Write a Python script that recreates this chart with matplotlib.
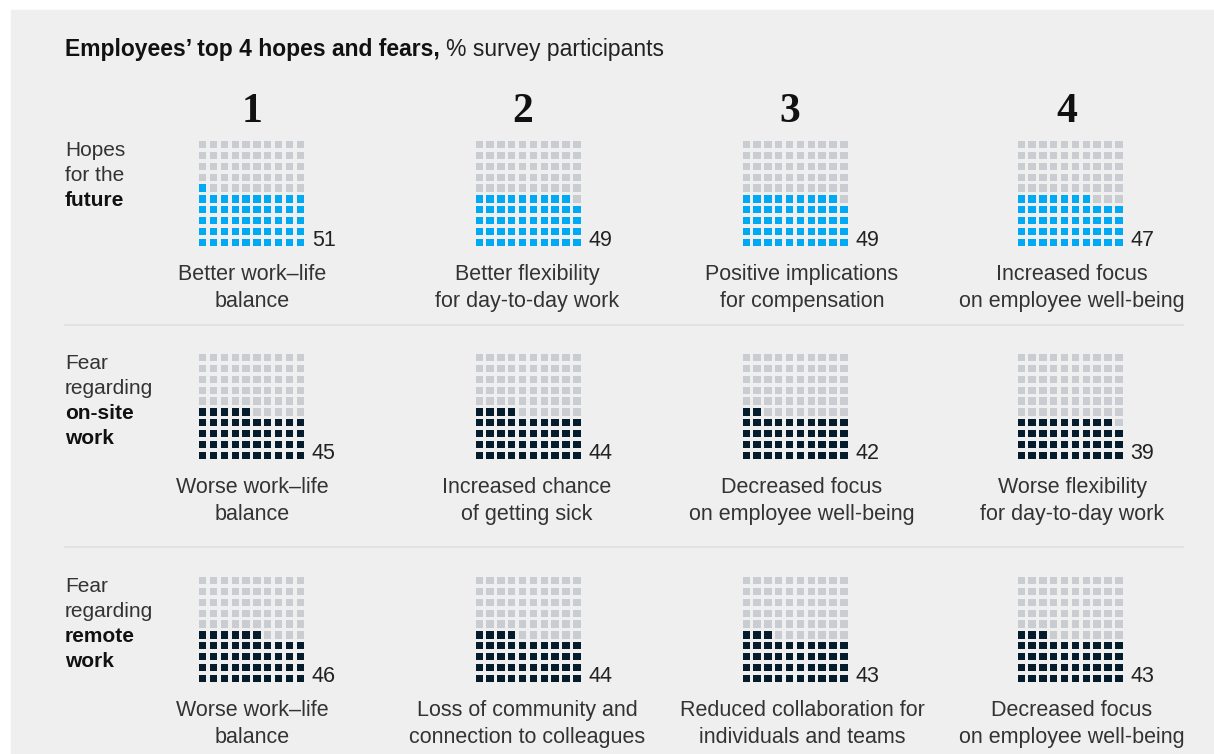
import matplotlib
matplotlib.use("Agg")
import matplotlib.pyplot as plt
from matplotlib.patches import Rectangle

# survey results, % of participants
ranks = ["1", "2", "3", "4"]
hopes = [51, 49, 49, 47]
fears_onsite = [45, 44, 42, 39]
fears_remote = [46, 44, 43, 43]

hopes_labels = ["Better work\u2013life\nbalance",
                "Better flexibility\nfor day-to-day work",
                "Positive implications\nfor compensation",
                "Increased focus\non employee well-being"]
onsite_labels = ["Worse work\u2013life\nbalance",
                 "Increased chance\nof getting sick",
                 "Decreased focus\non employee well-being",
                 "Worse flexibility\nfor day-to-day work"]
remote_labels = ["Worse work\u2013life\nbalance",
                 "Loss of community and\nconnection to colleagues",
                 "Reduced collaboration for\nindividuals and teams",
                 "Decreased focus\non employee well-being"]

row_titles = [("Hopes\nfor the", "future"),
              ("Fear\nregarding", "on-site\nwork"),
              ("Fear\nregarding", "remote\nwork")]

rows = [(hopes, hopes_labels, "#00a9f4"),
        (fears_onsite, onsite_labels, "#051c2c"),
        (fears_remote, remote_labels, "#051c2c")]

EMPTY = "#c9ccd0"
BG = "#efefef"
SANS = "Liberation Sans"

W, H = 1214, 754
fig = plt.figure(figsize=(W / 100, H / 100), dpi=100)
fig.patch.set_facecolor("white")

# pixel-space canvas for the panel and all text
bg = fig.add_axes([0, 0, 1, 1])
bg.set_xlim(0, W)
bg.set_ylim(H, 0)
bg.axis("off")
bg.add_patch(Rectangle((11, 10), W - 11, H - 10, color=BG, zorder=0))

# title: bold part then regular part
t1 = bg.text(65, 56, "Employees\u2019 top 4 hopes and fears,", fontsize=16.5,
             fontweight="bold", family=SANS, color="#111111", va="baseline")
fig.canvas.draw()
bb = t1.get_window_extent()
bg.text(65 + bb.width + 6, 56, "% survey participants", fontsize=16.5,
        family=SANS, color="#222222", va="baseline")

grid_left = [199, 475.5, 742.5, 1017.5]
rank_x = [252, 523, 790, 1067]
label_x = [252, 527, 802, 1072]
grid_top = [141, 354, 577]
title_base = [156, 369, 592]
GRID = 105
SQ = 0.68

for i, r in enumerate(ranks):
    bg.text(rank_x[i], 122, r, fontsize=30, fontweight="bold",
            family="Liberation Serif", color="#111111", ha="center", va="baseline")

for j, (values, labels, color) in enumerate(rows):
    top = grid_top[j]
    bottom = top + GRID

    # row title, last lines in bold
    plain, bold = row_titles[j]
    n = 0
    for line in plain.split("\n"):
        bg.text(65, title_base[j] + 25 * n, line, fontsize=15, family=SANS,
                color="#333333", va="baseline")
        n += 1
    for line in bold.split("\n"):
        bg.text(65, title_base[j] + 25 * n, line, fontsize=15, family=SANS,
                fontweight="bold", color="#111111", va="baseline")
        n += 1

    for i, v in enumerate(values):
        ax = fig.add_axes([grid_left[i] / W, 1 - bottom / H, GRID / W, GRID / H])
        ax.set_xlim(0, 9 + SQ)
        ax.set_ylim(0, 9 + SQ)
        ax.axis("off")
        for k in range(100):
            c = color if k < v else EMPTY
            ax.add_patch(Rectangle((k % 10, k // 10), SQ, SQ, color=c, lw=0))

        bg.text(grid_left[i] + GRID + 8, bottom, str(v), fontsize=15.5,
                family=SANS, color="#222222", va="baseline")

        for n, line in enumerate(labels[i].split("\n")):
            bg.text(label_x[i], bottom + 34 + 27 * n, line, fontsize=15.5,
                    family=SANS, color="#333333", ha="center", va="baseline")

    # separator under each row except the last
    if j < 2:
        y = [325, 547][j]
        bg.plot([65, 1183], [y, y], color="#e0e0e0", lw=1.2)

fig.savefig("out.png", dpi=100, facecolor=fig.get_facecolor())
